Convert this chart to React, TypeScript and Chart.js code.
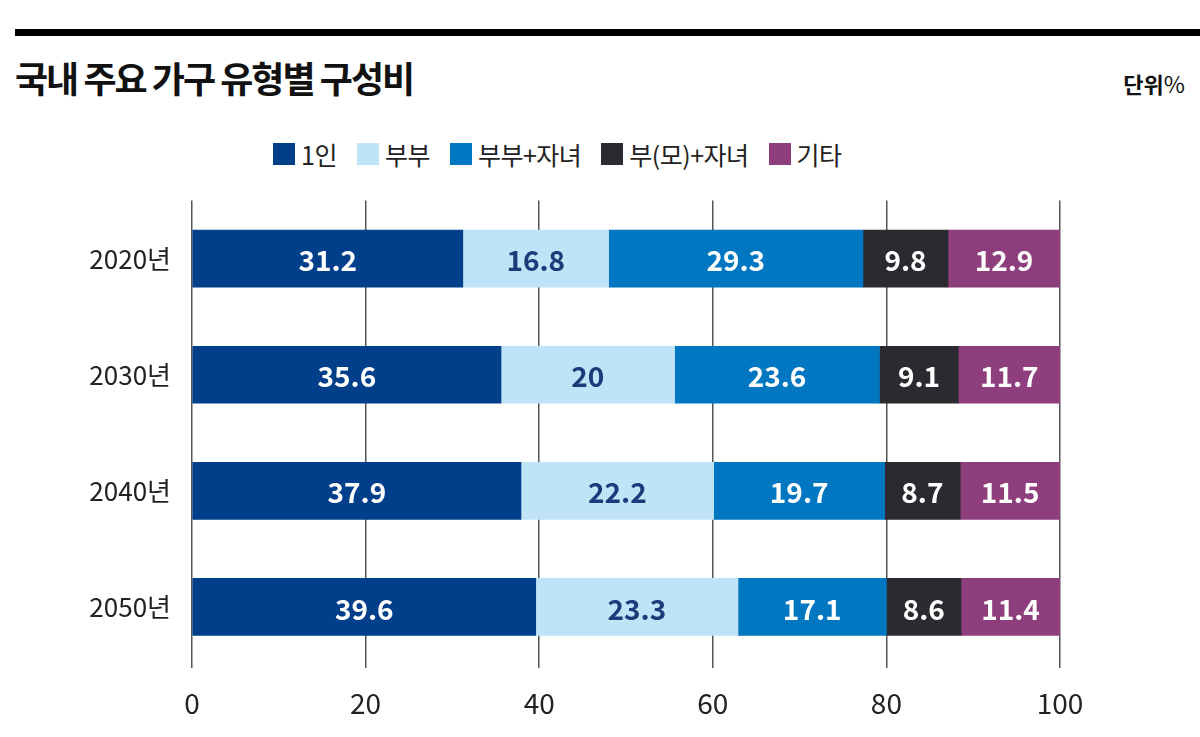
import React, { useEffect, useRef } from 'react';
import { Chart, registerables } from 'chart.js';

Chart.register(...registerables);

const categories = ['2020년', '2030년', '2040년', '2050년'];
const seriesNames = ['1인', '부부', '부부+자녀', '부(모)+자녀', '기타'];
const onePerson = [31.2, 35.6, 37.9, 39.6];
const couple = [16.8, 20, 22.2, 23.3];
const coupleChildren = [29.3, 23.6, 19.7, 17.1];
const parentChildren = [9.8, 9.1, 8.7, 8.6];
const others = [12.9, 11.7, 11.5, 11.4];
const xTickValues = [0, 20, 40, 60, 80, 100];

const seriesColors = ['#023f8a', '#bfe3f7', '#0177c1', '#2a2a30', '#8e3e7c'];
const labelColors = ['#ffffff', '#1b3c7a', '#ffffff', '#ffffff', '#ffffff'];
const FONT = "'Noto Sans CJK KR', 'Noto Sans', sans-serif";

const barLabels = {
  id: 'barLabels',
  afterDatasetsDraw(chart: any) {
    const ctx = chart.ctx;
    ctx.save();
    ctx.font = `bold 28px ${FONT}`;
    ctx.textAlign = 'center';
    ctx.textBaseline = 'middle';
    chart.data.datasets.forEach((ds: any, di: number) => {
      const meta = chart.getDatasetMeta(di);
      meta.data.forEach((el: any, i: number) => {
        const v = ds.data[i];
        const cx = (el.x + el.base) / 2;
        ctx.fillStyle = labelColors[di];
        ctx.fillText(String(v), cx, el.y + 2);
      });
    });
    ctx.restore();
  },
};

export default function App() {
  const canvasRef = useRef<HTMLCanvasElement | null>(null);

  useEffect(() => {
    const canvas = canvasRef.current;
    if (!canvas) return;
    const allSeries = [onePerson, couple, coupleChildren, parentChildren, others];
    const chart = new Chart(canvas, {
      type: 'bar',
      data: {
        labels: categories,
        datasets: allSeries.map((d, i) => ({
          label: seriesNames[i],
          data: d,
          backgroundColor: seriesColors[i],
          borderWidth: 0,
          barThickness: 57,
        })),
      },
      options: {
        indexAxis: 'y',
        animation: false,
        responsive: false,
        maintainAspectRatio: false,
        layout: { padding: { left: 0, right: 140, top: 12, bottom: 0 } },
        plugins: {
          legend: { display: false },
          tooltip: { enabled: false },
          title: { display: false },
        },
        scales: {
          x: {
            type: 'linear',
            stacked: true,
            min: 0,
            max: 100,
            afterBuildTicks(scale: any) {
              scale.ticks = xTickValues.map((v) => ({ value: v }));
            },
            afterFit(scale: any) {
              scale.height = 72;
            },
            grid: {
              color: '#555555',
              lineWidth: 1.5,
              drawTicks: true,
              tickLength: 3,
              tickColor: '#555555',
            },
            border: { display: false },
            ticks: {
              color: '#222222',
              font: { family: FONT, size: 28 },
              padding: 19,
            },
          },
          y: {
            type: 'category',
            stacked: true,
            afterFit(scale: any) {
              scale.width = 192;
            },
            grid: { display: false, drawTicks: false },
            border: { display: false },
            ticks: {
              color: '#222222',
              font: { family: FONT, size: 26 },
              padding: 21,
            },
          },
        },
      },
      plugins: [barLabels],
    });
    return () => chart.destroy();
  }, []);

  return (
    <div
      style={{
        position: 'absolute',
        left: 0,
        top: 0,
        width: 1200,
        height: 737,
        background: '#ffffff',
        overflow: 'hidden',
        fontFamily: FONT,
        color: '#111',
      }}
    >
      <div style={{ position: 'absolute', left: 15, top: 29, width: 1185, height: 7, background: '#000' }} />
      <div
        style={{
          position: 'absolute',
          left: 15,
          top: 57,
          fontSize: 36,
          lineHeight: '40px',
          fontWeight: 700,
          letterSpacing: -2,
          whiteSpace: 'pre',
        }}
      >
        국내 주요 가구 유형별 구성비
      </div>
      <div
        style={{
          position: 'absolute',
          right: 15,
          top: 70,
          fontSize: 22,
          lineHeight: '26px',
          whiteSpace: 'nowrap',
        }}
      >
        <span style={{ fontWeight: 700 }}>단위</span>
        <span style={{ fontWeight: 400, fontSize: 23 }}>%</span>
      </div>
      <div
        style={{
          position: 'absolute',
          left: 273,
          top: 138,
          display: 'flex',
          alignItems: 'center',
          whiteSpace: 'nowrap',
        }}
      >
        {seriesNames.map((name, i) => (
          <div key={name} style={{ display: 'flex', alignItems: 'center', marginRight: 20 }}>
            <div style={{ width: 22, height: 22, background: seriesColors[i], marginRight: 6 }} />
            <span style={{ fontSize: 25, lineHeight: '32px', color: '#222', letterSpacing: -0.5 }}>{name}</span>
          </div>
        ))}
      </div>
      <canvas
        ref={canvasRef}
        width={1200}
        height={573}
        style={{ position: 'absolute', left: 0, top: 164, width: 1200, height: 573 }}
      />
    </div>
  );
}
